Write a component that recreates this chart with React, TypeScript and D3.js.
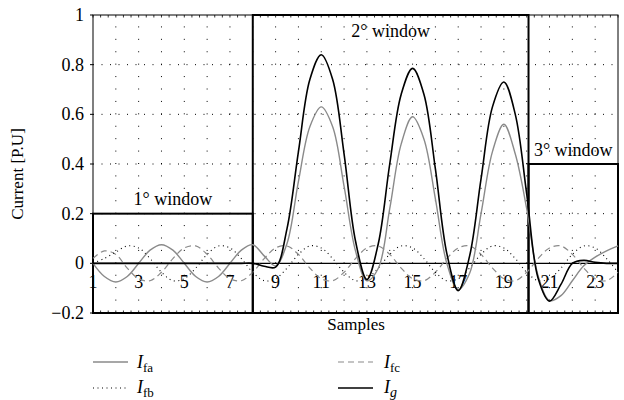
import React from 'react';
import * as d3 from 'd3';

// sample axis, half-sample steps
const samples = [1, 1.5, 2, 2.5, 3, 3.5, 4, 4.5, 5, 5.5, 6, 6.5, 7, 7.5, 8, 8.5, 9, 9.5, 10, 10.5, 11, 11.5, 12, 12.5,
  13, 13.5, 14, 14.5, 15, 15.5, 16, 16.5, 17, 17.5, 18, 18.5, 19, 19.5, 20, 20.5, 21, 21.5, 22, 22.5, 23, 23.5, 24];

const Ifa = [0, -0.053, -0.075, -0.053, 0, 0.053, 0.075, 0.053, 0, -0.053, -0.075, -0.053, 0, 0.053, 0.075,
  0.03, -0.01, 0.08, 0.33, 0.55, 0.63, 0.55, 0.31, 0.05, -0.07, -0.02, 0.22, 0.48, 0.59, 0.5, 0.26, 0.0,
  -0.105, -0.04, 0.2, 0.45, 0.56, 0.44, 0.22, -0.05, -0.15, -0.13, -0.07, -0.01, 0.025, 0.05, 0.07];

const Ifb = [0.0, 0.02, 0.045, 0.07, 0.062, 0.019, -0.036, -0.07, -0.062, -0.019, 0.036, 0.07, 0.062, 0.019,
  -0.036, -0.07, -0.062, -0.019, 0.036, 0.07, 0.062, 0.019, -0.036, -0.07, -0.062, -0.019, 0.036, 0.07,
  0.062, 0.019, -0.036, -0.07, -0.062, -0.019, 0.036, 0.07, 0.062, 0.019, -0.036, -0.07, -0.062, -0.019,
  0.036, 0.07, 0.062, 0.019, -0.036];

const Ifc = [0.02, 0.05, 0.036, -0.019, -0.062, -0.07, -0.036, 0.019, 0.062, 0.07, 0.036, -0.019, -0.062,
  -0.07, -0.036, 0.019, 0.062, 0.07, 0.036, -0.019, -0.062, -0.07, -0.036, 0.019, 0.062, 0.07, 0.036,
  -0.019, -0.062, -0.07, -0.036, 0.019, 0.062, 0.07, 0.036, -0.019, -0.062, -0.07, -0.036, 0.019, 0.062,
  0.07, 0.036, -0.019, -0.062, -0.07, -0.036];

const Ig = [0, 0, 0, 0, 0, 0, 0, 0, 0, 0, 0, 0, 0, 0, 0,
  -0.012, -0.015, 0.14, 0.45, 0.74, 0.84, 0.74, 0.44, 0.09, -0.065, 0.08, 0.4, 0.68, 0.785, 0.68, 0.38, 0.04,
  -0.11, 0.03, 0.34, 0.63, 0.73, 0.6, 0.28, -0.06, -0.152, -0.085, 0.0, 0.012, 0.004, 0, 0];

const xTicks = [1, 3, 5, 7, 9, 11, 13, 15, 17, 19, 21, 23];
const yTicks = [1, 0.8, 0.6, 0.4, 0.2, 0, -0.2];

const windowLabels = ['1° window', '2° window', '3° window'];
const windowStart = [1, 8, 20.08];
const windowEnd = [8, 20.08, 24];
const windowTop = [0.2, 1, 0.4];

const W = 624;
const H = 400;
const left = 93, right = 618, top = 15, bottom = 313;
const serif = 'Liberation Serif';

export default function App() {
  const x = d3.scaleLinear().domain([1, 24]).range([left, right]);
  const y = d3.scaleLinear().domain([-0.2, 1]).range([bottom, top]);

  const line = d3.line<number>()
    .x((_, i) => x(samples[i]))
    .y(d => y(d))
    .curve(d3.curveCatmullRom.alpha(0.5));

  const dotStep = Math.abs(y(0) - y(0.05));
  const vGrid = d3.range(2, 24);
  const hGrid = [0.2, 0.4, 0.6, 0.8];
  const minor = d3.range(1, 24.001, 1 / 3);

  const gray = '#8a8a8a';

  return (
    <svg width={W} height={H} style={{ position: 'absolute', left: 0, top: 0, background: '#fff' }}>
      {/* dotted grid */}
      {vGrid.map(s => (
        <line key={'v' + s} x1={x(s)} x2={x(s)} y1={bottom} y2={top} stroke="#000" strokeWidth={1}
          strokeDasharray={`1 ${dotStep - 1}`} />
      ))}
      {hGrid.map(v => (
        <line key={'h' + v} x1={left} x2={right} y1={y(v)} y2={y(v)} stroke="#000" strokeWidth={1}
          strokeDasharray="1 7.5" />
      ))}

      {/* frame */}
      <rect x={left} y={top} width={right - left} height={bottom - top} fill="none" stroke="#000" strokeWidth={1} />
      {minor.map((s, i) => (
        <g key={'m' + i}>
          <line x1={x(s)} x2={x(s)} y1={top} y2={top + 2.5} stroke="#000" strokeWidth={0.8} />
          <line x1={x(s)} x2={x(s)} y1={bottom} y2={bottom - 2.5} stroke="#000" strokeWidth={0.8} />
        </g>
      ))}

      {/* y axis */}
      {yTicks.map(v => (
        <g key={'y' + v}>
          <line x1={left - 3} x2={left} y1={y(v)} y2={y(v)} stroke="#000" strokeWidth={1} />
          <text x={left - 9} y={y(v) + 6} textAnchor="end" fontSize={18} fontFamily={serif}>
            {v < 0 ? '\u2212' + Math.abs(v) : String(v)}
          </text>
        </g>
      ))}
      <text transform={`translate(23,${(top + bottom) / 2 + 10}) rotate(-90)`} textAnchor="middle" fontSize={17}
        fontFamily={serif}>
        Current [P.U]
      </text>

      {/* zero line */}
      <line x1={left} x2={right} y1={y(0)} y2={y(0)} stroke="#000" strokeWidth={1.4} />

      {/* x tick labels inside plot */}
      {xTicks.map(s => (
        <text key={'x' + s} x={x(s)} y={y(0) + 25} textAnchor="middle" fontSize={18} fontFamily={serif}>{s}</text>
      ))}
      <text x={356} y={330} textAnchor="middle" fontSize={17} fontFamily={serif}>Samples</text>

      {/* windows */}
      {windowLabels.map((lab, i) => (
        <rect key={lab} x={x(windowStart[i])} y={y(windowTop[i])} width={x(windowEnd[i]) - x(windowStart[i])}
          height={y(-0.2) - y(windowTop[i])} fill="none" stroke="#000" strokeWidth={2} />
      ))}
      <text x={(x(windowStart[0]) + x(windowEnd[0])) / 2} y={y(windowTop[0]) - 9} textAnchor="middle" fontSize={18} fontFamily={serif}>{windowLabels[0]}</text>
      <text x={(x(windowStart[1]) + x(windowEnd[1])) / 2} y={y(windowTop[1]) + 22} textAnchor="middle" fontSize={18} fontFamily={serif}>{windowLabels[1]}</text>
      <text x={(x(windowStart[2]) + x(windowEnd[2])) / 2} y={y(windowTop[2]) - 8} textAnchor="middle" fontSize={18} fontFamily={serif}>{windowLabels[2]}</text>

      {/* series */}
      <path d={line(Ifc) || ''} fill="none" stroke={gray} strokeWidth={1.2} strokeDasharray="6 4" />
      <path d={line(Ifb) || ''} fill="none" stroke="#000" strokeWidth={1.1} strokeDasharray="1 3.5" />
      <path d={line(Ifa) || ''} fill="none" stroke={gray} strokeWidth={1.4} />
      <path d={line(Ig) || ''} fill="none" stroke="#000" strokeWidth={1.6} />

      {/* legend */}
      <g fontSize={18} fontFamily={serif}>
        <line x1={93} x2={128} y1={362} y2={362} stroke={gray} strokeWidth={1.4} />
        <text x={137} y={368}><tspan fontStyle="italic">I</tspan><tspan fontSize={13} dy={4}>fa</tspan></text>
        <line x1={93} x2={128} y1={388} y2={388} stroke="#000" strokeWidth={1.1} strokeDasharray="1 3.5" />
        <text x={137} y={393}><tspan fontStyle="italic">I</tspan><tspan fontSize={13} dy={4}>fb</tspan></text>
        <line x1={338} x2={373} y1={362} y2={362} stroke={gray} strokeWidth={1.2} strokeDasharray="6 4" />
        <text x={384} y={368}><tspan fontStyle="italic">I</tspan><tspan fontSize={13} dy={4}>fc</tspan></text>
        <line x1={338} x2={373} y1={388} y2={388} stroke="#000" strokeWidth={1.6} />
        <text x={384} y={393}><tspan fontStyle="italic">I</tspan><tspan fontSize={14} dy={4} fontStyle="italic">g</tspan></text>
      </g>
    </svg>
  );
}
